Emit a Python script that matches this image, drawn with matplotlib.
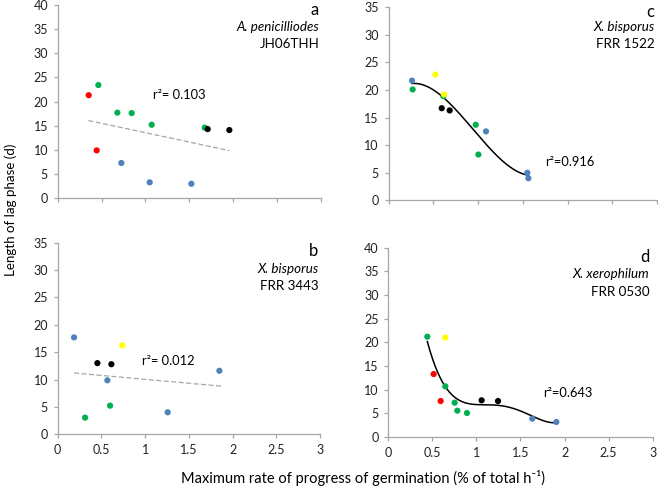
import numpy as np
import matplotlib
matplotlib.use("Agg")
import matplotlib.pyplot as plt

plt.rcParams['font.family'] = ['Lato', 'DejaVu Sans']

BLUE = '#4F81BD'
GREEN = '#00B050'
RED = '#FF0000'
YELLOW = '#FFFF00'
BLACK = '#000000'

# Panel a: A. penicilliodes JH06THH
a_x = [0.353, 0.444, 0.463, 0.68, 0.843, 1.071, 1.675, 1.709, 1.956, 0.725, 1.048, 1.523]
a_y = [21.3, 9.9, 23.4, 17.7, 17.6, 15.2, 14.6, 14.3, 14.1, 7.3, 3.3, 3.0]
a_c = ['red', 'red', 'green', 'green', 'green', 'green', 'green', 'black', 'black', 'blue', 'blue', 'blue']
a_line_x = [0.35, 1.956]
a_line_y = [16.07, 9.86]

# Panel b: X. bisporus FRR 3443
b_x = [0.187, 0.74, 0.454, 0.614, 0.568, 0.313, 0.599, 1.258, 1.849]
b_y = [17.7, 16.25, 13.0, 12.8, 9.86, 3.04, 5.23, 4.02, 11.6]
b_c = ['blue', 'yellow', 'black', 'black', 'blue', 'green', 'green', 'blue', 'blue']
b_line_x = [0.187, 1.868]
b_line_y = [11.2, 8.8]

# Panel c: X. bisporus FRR 1522
c_x = [0.261, 0.268, 0.611, 0.522, 0.619, 0.593, 0.682, 0.973, 1.003, 1.088, 1.55, 1.562]
c_y = [21.7, 20.1, 18.9, 22.8, 19.2, 16.7, 16.3, 13.7, 8.3, 12.5, 5.0, 4.0]
c_c = ['blue', 'green', 'green', 'yellow', 'yellow', 'black', 'black', 'green', 'green', 'blue', 'blue', 'blue']

# Panel d: X. xerophilum FRR 0530
d_x = [0.443, 0.647, 0.515, 0.647, 0.594, 0.753, 0.783, 0.893, 1.059, 1.245, 1.634, 1.907]
d_y = [21.2, 21.0, 13.3, 10.7, 7.6, 7.25, 5.56, 5.07, 7.75, 7.6, 3.87, 3.17]
d_c = ['green', 'yellow', 'red', 'green', 'red', 'green', 'green', 'green', 'black', 'black', 'blue', 'blue']

cmap = {'blue': BLUE, 'green': GREEN, 'red': RED, 'yellow': YELLOW, 'black': BLACK}

fig = plt.figure(figsize=(6.58, 4.90), dpi=100)

axes_pos = {
    'a': [0.0877, 0.5953, 0.4001, 0.3951],
    'c': [0.5907, 0.5912, 0.4078, 0.3939],
    'b': [0.0877, 0.1137, 0.3986, 0.3910],
    'd': [0.5901, 0.1082, 0.4018, 0.3863],
}

AXCOL = '#A6A6A6'

def style(ax, ymax, show_xlabels):
    ax.set_xlim(0, 3)
    ax.set_ylim(0, ymax)
    ax.set_xticks(np.arange(0, 3.01, 0.5))
    ax.set_xticklabels(['0', '0.5', '1', '1.5', '2', '2.5', '3'] if show_xlabels else [])
    ax.set_yticks(np.arange(0, ymax + 0.1, 5))
    ax.set_yticklabels([str(int(v)) for v in np.arange(0, ymax + 0.1, 5)])
    for s in ['top', 'right']:
        ax.spines[s].set_visible(False)
    for s in ['left', 'bottom']:
        ax.spines[s].set_color(AXCOL)
        ax.spines[s].set_linewidth(0.9)
    ax.tick_params(axis='both', colors=AXCOL, labelcolor='#222222', labelsize=9,
                   length=3, width=0.9, direction='out', pad=4)
    ax.patch.set_alpha(0)

def scatter(ax, xs, ys, cs):
    ax.scatter(xs, ys, c=[cmap[c] for c in cs], s=20, edgecolors='none', zorder=3)

def labels(ax, x, ys, letter, species, strain):
    ax.text(x, ys[0], letter, ha='right', va='center', fontsize=12)
    ax.text(x, ys[1], species, ha='right', va='center', fontsize=9.6, style='italic')
    ax.text(x, ys[2], strain, ha='right', va='center', fontsize=9.6)

# a
ax = fig.add_axes(axes_pos['a'])
style(ax, 40, False)
ax.plot(a_line_x, a_line_y, ls=(0, (4, 2)), color='#A6A6A6', lw=0.9, zorder=2)
scatter(ax, a_x, a_y, a_c)
ax.text(1.086, 21.3, 'r²= 0.103', fontsize=9.3, va='center', ha='left')
labels(ax, 2.98, [38.9, 35.3, 31.9], 'a', 'A. penicilliodes', 'JH06THH')

# c
ax = fig.add_axes(axes_pos['c'])
style(ax, 35, False)
p = np.polyfit(c_x, c_y, 3)
xx = np.linspace(min(c_x), max(c_x), 200)
ax.plot(xx, np.polyval(p, xx), color='black', lw=1.1, zorder=2)
scatter(ax, c_x, c_y, c_c)
ax.text(1.748, 7.0, 'r²=0.916', fontsize=9.3, va='center', ha='left')
labels(ax, 2.97, [34.1, 31.4, 28.3], 'c', 'X. bisporus', 'FRR 1522')

# b
ax = fig.add_axes(axes_pos['b'])
style(ax, 35, True)
ax.plot(b_line_x, b_line_y, ls=(0, (4, 2)), color='#A6A6A6', lw=0.9, zorder=2)
scatter(ax, b_x, b_y, b_c)
ax.text(0.961, 13.4, 'r²= 0.012', fontsize=9.3, va='center', ha='left')
labels(ax, 2.98, [33.4, 30.2, 27.1], 'b', 'X. bisporus', 'FRR 3443')

# d
ax = fig.add_axes(axes_pos['d'])
style(ax, 40, True)
p = np.polyfit(d_x, d_y, 4)
xx = np.linspace(min(d_x), max(d_x), 200)
ax.plot(xx, np.polyval(p, xx), color='black', lw=1.1, zorder=2)
scatter(ax, d_x, d_y, d_c)
ax.text(1.76, 9.2, 'r²=0.643', fontsize=9.3, va='center', ha='left')
labels(ax, 2.96, [38.0, 34.4, 30.7], 'd', 'X. xerophilum', 'FRR 0530')

fig.text(0.552, 0.0245, 'Maximum rate of progress of germination (% of total h⁻¹)',
         ha='center', va='center', fontsize=10.5)
fig.text(0.016, 0.571, 'Length of lag phase (d)', rotation=90,
         ha='center', va='center', fontsize=9.6)

fig.savefig('out.png', dpi=100)
